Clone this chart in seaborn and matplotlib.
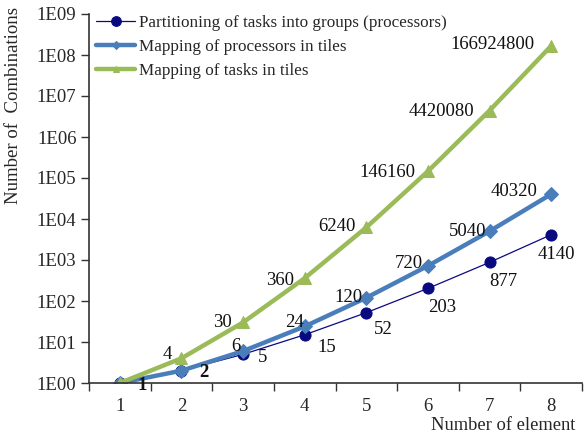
import matplotlib
matplotlib.use("Agg")
import matplotlib.pyplot as plt
from matplotlib.ticker import FixedLocator, FuncFormatter, NullFormatter
import numpy as np
import pandas as pd
import seaborn as sns

# Data
elements = [1, 2, 3, 4, 5, 6, 7, 8]
partitioning = [1, 2, 5, 15, 52, 203, 877, 4140]
mapping_processors = [1, 2, 6, 24, 120, 720, 5040, 40320]
mapping_tasks = [1, 4, 30, 360, 6240, 146160, 4420080, 166924800]

series_names = [
    "Partitioning of tasks into groups (processors)",
    "Mapping of processors in tiles",
    "Mapping of tasks in tiles",
]

sns.set_theme(style="white")
plt.rcParams["font.family"] = ["Liberation Serif", "DejaVu Serif"]

fig = plt.figure(figsize=(5.87, 4.36), dpi=100)
ax = fig.add_axes([89 / 587, 1 - 383 / 436, (582 - 89) / 587, (383 - 14) / 436])

df = pd.DataFrame({
    "element": elements * 3,
    "value": partitioning + mapping_processors + mapping_tasks,
    "series": [series_names[0]] * 8 + [series_names[1]] * 8 + [series_names[2]] * 8,
})

styles = [
    dict(color="#0a0a80", lw=0.9, marker="o", ms=8, lms=7),
    dict(color="#4a7ebb", lw=3.2, marker="D", ms=7, lms=4),
    dict(color="#9bbb59", lw=3.2, marker="^", ms=9, lms=5),
]
for name, st in zip(series_names, styles):
    sns.lineplot(
        data=df[df["series"] == name], x="element", y="value", ax=ax,
        color=st["color"], linewidth=st["lw"], marker=st["marker"],
        markersize=st["ms"], markeredgecolor=st["color"], label=name,
    )

ax.set_yscale("log")
ax.set_ylim(1, 1e9)
ax.set_xlim(0.5, 8.5)

# y axis: decade ticks labelled 1E00 ... 1E09
ax.yaxis.set_major_locator(FixedLocator([10.0 ** k for k in range(10)]))
ax.yaxis.set_major_formatter(FuncFormatter(lambda v, p: "1E%02d" % int(round(np.log10(v)))))
ax.yaxis.set_minor_locator(FixedLocator([]))

# x axis: category labels at centres, tick marks between categories
ax.xaxis.set_major_locator(FixedLocator(elements))
ax.xaxis.set_minor_locator(FixedLocator([e + 0.5 for e in [0] + elements]))
ax.xaxis.set_minor_formatter(NullFormatter())
ax.tick_params(axis="x", which="major", length=0, pad=11, labelsize=13.5)
ax.tick_params(axis="x", which="minor", length=6, width=1, color="#333333", direction="out", bottom=True)
ax.tick_params(axis="y", which="major", length=6, width=1, color="#333333", direction="out", left=True, labelsize=13.5, pad=3)

for side in ["top", "right"]:
    ax.spines[side].set_visible(False)
for side in ["left", "bottom"]:
    ax.spines[side].set_color("#333333")
    ax.spines[side].set_linewidth(1.2)

ax.set_xlabel("")
ax.set_ylabel("")
fig.text(14 / 587, 1 - 106 / 436, "Number of  Combinations", rotation=90,
         ha="center", va="center", fontsize=13.5)
fig.text(503 / 587, 1 - 425 / 436, "Number of element", ha="center", va="center", fontsize=13.3)

# Data labels (offsets in points from each marker)
lab_fs = 13.5
offs_part = [(16, -2), (16, -1), (14, -2), (16, -9), (12, -12), (10, -14), (10, -14), (4, -14)]
offs_proc = [(16, -2), (16, -1), (-5, 3), (-7, 3), (-13, 0), (-14, 2), (-16, 0), (-27, 2)]
offs_task = [(0, 0), (-10, 3), (-15, 0), (-18, -2), (-21, 1), (-29, -1), (-35, -1), (-42, 1)]

for i, (x, v) in enumerate(zip(elements, partitioning)):
    w = "bold" if i < 2 else "normal"
    ax.annotate(str(v), (x, v), xytext=offs_part[i], textcoords="offset points",
                ha="center", va="center", fontsize=lab_fs, fontweight=w, color="#111111")
for i, (x, v) in enumerate(zip(elements, mapping_processors)):
    if i < 2:
        continue
    ax.annotate(str(v), (x, v), xytext=offs_proc[i], textcoords="offset points",
                ha="center", va="center", fontsize=lab_fs, color="#111111")
for i, (x, v) in enumerate(zip(elements, mapping_tasks)):
    if i < 1:
        continue
    ax.annotate(str(v), (x, v), xytext=offs_task[i], textcoords="offset points",
                ha="center", va="center", fontsize=lab_fs, color="#111111")

leg = ax.legend(loc="upper left", bbox_to_anchor=(-0.003, 1.02), frameon=False,
                fontsize=12.3, handlelength=2.3, handletextpad=0.2, labelspacing=0.45,
                borderaxespad=0.3, borderpad=0.2)
for h, st in zip(leg.legend_handles, styles):
    h.set_markersize(st["lms"])

fig.savefig("out.png", dpi=100)
